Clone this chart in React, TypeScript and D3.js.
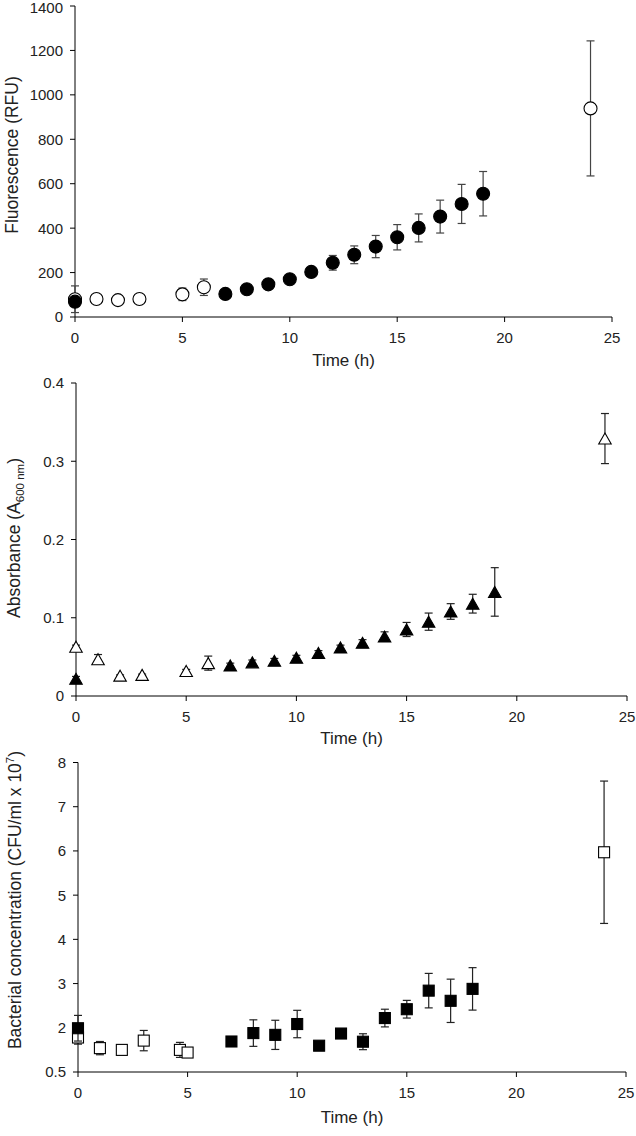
import React from "react";
import * as d3 from "d3";

// ---------- Data ----------
const timeTicks = [0, 5, 10, 15, 20, 25];

// Panel 1: Fluorescence (RFU)
const fluorOpenTime = [0, 1, 2, 3, 5, 6, 24];
const fluorOpenVal = [80, 81, 76, 81, 102, 134, 939];
const fluorOpenErr = [60, 4, 3, 4, 28, 37, 304];
const fluorFilledTime = [0, 7, 8, 9, 10, 11, 12, 13, 14, 15, 16, 17, 18, 19];
const fluorFilledVal = [69, 104, 125, 147, 170, 203, 244, 280, 317, 359, 401, 452, 509, 555];
const fluorFilledErr = [6, 8, 8, 10, 12, 20, 33, 40, 50, 57, 63, 74, 88, 100];
const fluorTicks = [0, 200, 400, 600, 800, 1000, 1200, 1400];
const fluorTickLabels = ["0", "200", "400", "600", "800", "1000", "1200", "1400"];

// Panel 2: Absorbance (A600 nm)
const absOpenTime = [0, 1, 2, 3, 5, 6, 24];
const absOpenVal = [0.063, 0.047, 0.026, 0.027, 0.032, 0.042, 0.329];
const absOpenErr = [0.002, 0.006, 0.001, 0.001, 0.002, 0.009, 0.032];
const absFilledTime = [0, 7, 8, 9, 10, 11, 12, 13, 14, 15, 16, 17, 18, 19];
const absFilledVal = [0.022, 0.039, 0.043, 0.045, 0.049, 0.055, 0.062, 0.068, 0.076, 0.085, 0.095, 0.108, 0.118, 0.133];
const absFilledErr = [0.003, 0.003, 0.003, 0.003, 0.003, 0.003, 0.003, 0.004, 0.006, 0.009, 0.011, 0.01, 0.012, 0.031];
const absTicks = [0, 0.1, 0.2, 0.3, 0.4];
const absTickLabels = ["0", "0.1", "0.2", "0.3", "0.4"];

// Panel 3: Bacterial concentration (CFU/ml x 10^7)
const cfuOpenTime = [0, 1, 2, 3, 4.65, 5, 24];
const cfuOpenVal = [1.78, 1.54, 1.5, 1.71, 1.5, 1.44, 5.97];
const cfuOpenErr = [0.15, 0.15, 0.03, 0.23, 0.17, 0.04, 1.61];
const cfuFilledTime = [0, 7, 8, 9, 10, 11, 12, 13, 14, 15, 16, 17, 18];
const cfuFilledVal = [1.99, 1.69, 1.88, 1.84, 2.085, 1.595, 1.87, 1.685, 2.22, 2.42, 2.84, 2.61, 2.88];
const cfuFilledErr = [0.29, 0.05, 0.3, 0.33, 0.31, 0.03, 0.03, 0.18, 0.2, 0.2, 0.39, 0.49, 0.48];
const cfuTicks = [1, 2, 3, 4, 5, 6, 7, 8];
const cfuTickLabels = ["0.5", "2", "3", "4", "5", "6", "7", "8"];

const FONT = "'Liberation Sans', Arial, Helvetica, sans-serif";
const TEXT = "#222";

type Series = { t: number[]; v: number[]; e: number[]; filled: boolean };

function Marker({ kind, cx, cy, filled }: { kind: string; cx: number; cy: number; filled: boolean }) {
  const fill = filled ? "#000" : "#fff";
  if (kind === "circle") {
    return <circle cx={cx} cy={cy} r={6.5} fill={fill} stroke="#000" strokeWidth={1.1} />;
  }
  if (kind === "triangle") {
    const w = 12.5, h = 11;
    const d = `M${cx},${cy - h / 2}L${cx + w / 2},${cy + h / 2}L${cx - w / 2},${cy + h / 2}Z`;
    return <path d={d} fill={fill} stroke="#000" strokeWidth={1.1} />;
  }
  const s = 11;
  return <rect x={cx - s / 2} y={cy - s / 2} width={s} height={s} fill={fill} stroke="#000" strokeWidth={1.1} />;
}

function Panel(props: {
  xRange: [number, number];
  yRange: [number, number];
  yDomain: [number, number];
  yTicks: number[];
  yTickLabels: string[];
  series: Series[];
  kind: string;
  title: React.ReactNode;
  titleX: number;
  titleY: number;
  timeY: number;
  errColor: string;
}) {
  const x = d3.scaleLinear().domain([0, 25]).range(props.xRange);
  const y = d3.scaleLinear().domain(props.yDomain).range(props.yRange);
  const x0 = x(0);
  const yb = y(props.yDomain[0]);
  const yt = y(props.yDomain[1]);
  const cap = 4;
  return (
    <g>
      <line x1={x0} x2={x(25)} y1={yb} y2={yb} stroke="#000" strokeWidth={1} />
      <line x1={x0} x2={x0} y1={yb} y2={yt} stroke="#000" strokeWidth={1} />
      {timeTicks.map((t) => (
        <g key={"xt" + t}>
          <line x1={x(t)} x2={x(t)} y1={yb} y2={yb + 5} stroke="#000" strokeWidth={1} />
          <text x={x(t)} y={yb + 26} textAnchor="middle" fontSize={15} fontFamily={FONT} fill={TEXT}>
            {t}
          </text>
        </g>
      ))}
      {props.yTicks.map((v, i) => (
        <g key={"yt" + i}>
          <line x1={x0 - 5} x2={x0} y1={y(v)} y2={y(v)} stroke="#000" strokeWidth={1} />
          <text x={x0 - 12} y={Math.max(y(v), 8)} dy="0.36em" textAnchor="end" fontSize={15} fontFamily={FONT} fill={TEXT}>
            {props.yTickLabels[i]}
          </text>
        </g>
      ))}
      {props.series.map((s, si) => (
        <g key={"s" + si}>
          {s.t.map((t, i) => {
            const cx = x(t);
            const top = y(s.v[i] + s.e[i]);
            const bot = y(s.v[i] - s.e[i]);
            return (
              <g key={"e" + i} stroke={props.errColor} strokeWidth={1.2}>
                <line x1={cx} x2={cx} y1={top} y2={bot} />
                <line x1={cx - cap} x2={cx + cap} y1={top} y2={top} />
                <line x1={cx - cap} x2={cx + cap} y1={bot} y2={bot} />
              </g>
            );
          })}
          {s.t.map((t, i) => (
            <Marker key={"m" + i} kind={props.kind} cx={x(t)} cy={y(s.v[i])} filled={s.filled} />
          ))}
        </g>
      ))}
      <text
        transform={`translate(${props.titleX},${props.titleY}) rotate(-90)`}
        textAnchor="middle"
        dy="0.36em"
        fontSize={17.5}
        fontFamily={FONT}
        fill={TEXT}
      >
        {props.title}
      </text>
      <text x={(x(0) + x(25)) / 2} y={props.timeY} textAnchor="middle" fontSize={17} fontFamily={FONT} fill={TEXT}>
        Time (h)
      </text>
    </g>
  );
}

export default function App() {
  return (
    <div style={{ position: "absolute", left: 0, top: 0, width: 636, height: 1136, background: "#fff" }}>
      <svg width={636} height={1136} style={{ display: "block" }}>
        <rect width={636} height={1136} fill="#fff" />
        <Panel
          xRange={[75, 612]}
          yRange={[317, 6]}
          yDomain={[0, 1400]}
          yTicks={fluorTicks}
          yTickLabels={fluorTickLabels}
          series={[
            { t: fluorOpenTime, v: fluorOpenVal, e: fluorOpenErr, filled: false },
            { t: fluorFilledTime, v: fluorFilledVal, e: fluorFilledErr, filled: true },
          ]}
          kind="circle"
          title={"Fluorescence (RFU)"}
          titleX={12}
          titleY={155}
          timeY={366}
          errColor="#444"
        />
        <Panel
          xRange={[76, 627]}
          yRange={[696, 383]}
          yDomain={[0, 0.4]}
          yTicks={absTicks}
          yTickLabels={absTickLabels}
          series={[
            { t: absOpenTime, v: absOpenVal, e: absOpenErr, filled: false },
            { t: absFilledTime, v: absFilledVal, e: absFilledErr, filled: true },
          ]}
          kind="triangle"
          title={
            <>
              <tspan>Absorbance (A</tspan>
              <tspan fontSize={11.5} dy={4}>600 nm</tspan>
              <tspan dy={-4}>)</tspan>
            </>
          }
          titleX={14}
          titleY={538}
          timeY={744}
          errColor="#222"
        />
        <Panel
          xRange={[78, 626]}
          yRange={[1072, 762.5]}
          yDomain={[1, 8]}
          yTicks={cfuTicks}
          yTickLabels={cfuTickLabels}
          series={[
            { t: cfuOpenTime, v: cfuOpenVal, e: cfuOpenErr, filled: false },
            { t: cfuFilledTime, v: cfuFilledVal, e: cfuFilledErr, filled: true },
          ]}
          kind="square"
          title={
            <>
              <tspan>Bacterial concentration (CFU/ml x 10</tspan>
              <tspan fontSize={11.5} dy={-7}>7</tspan>
              <tspan dy={7}>)</tspan>
            </>
          }
          titleX={15}
          titleY={900}
          timeY={1123}
          errColor="#222"
        />
      </svg>
    </div>
  );
}
